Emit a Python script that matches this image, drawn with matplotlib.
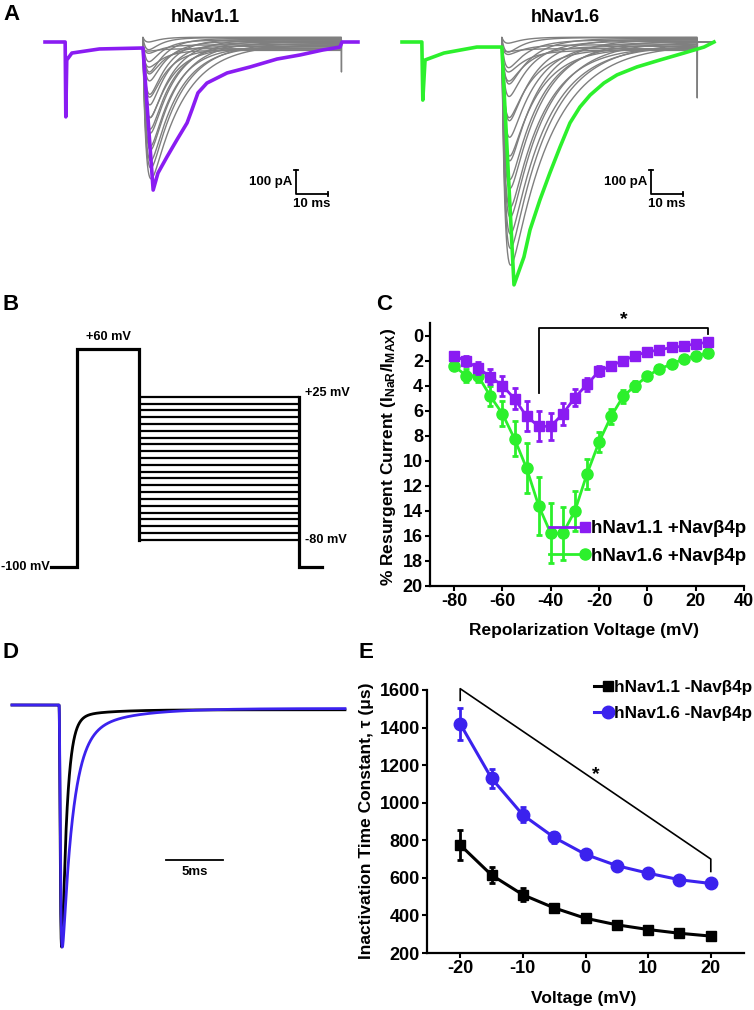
import numpy as np
import matplotlib
matplotlib.use("Agg")
import matplotlib.pyplot as plt
from matplotlib.lines import Line2D
from matplotlib.legend_handler import HandlerLine2D

W, H = 754, 1010

plt.rcParams["font.family"] = ["Liberation Sans", "DejaVu Sans"]
plt.rcParams["font.weight"] = "bold"
plt.rcParams["axes.labelweight"] = "bold"
plt.rcParams["axes.unicode_minus"] = False
plt.rcParams["mathtext.default"] = "regular"

PURPLE = "#8a1cf2"
GREEN = "#2cf02c"
BLUE = "#3b22ee"
GREY = "#7f7f7f"

# ---------------- panel A: resurgent current traces (ms, pA) ----------------
a11_t = [0, 6.3, 6.5, 6.8, 8.4, 17.0, 30.6, 33.8, 35.3, 38.1, 41.2, 44.4, 45.9,
         47.8, 50.6, 56.9, 64.1, 72.5, 79.7, 86.9, 92.2, 92.8, 97.8]
a11_i = [0, 0, -312, -75, -46, -29, -25, -617, -546, -479, -408, -337, -283,
         -212, -171, -129, -104, -71, -54, -33, -21, 0, 0]
a11_step, a11_end, a11_stop = 30.6, 92.6, 97.8
a11_grey_amp = [560, 520, 480, 450, 415, 385, 355, 325, 290, 260, 230, 200,
                165, 140, 115, 90, 70, 50, 35, 20, 10]
a11_grey_tau = [10, 9, 8.5, 8, 7.5, 7.5, 7, 7, 6.5, 6, 6, 5.5, 5.5, 5, 5, 4.5,
                4.5, 4, 4, 3.5, 3.5]
a11_tail = -125

a16_t = [0, 6.2, 6.5, 7.2, 13.1, 23.4, 31.2, 35.0, 38.1, 40.0, 43.1, 46.2,
         49.4, 52.5, 55.6, 58.8, 63.1, 67.2, 73.4, 80.6, 88.1, 94.4, 97.5]
a16_i = [0, 0, -242, -75, -46, -21, -21, -1012, -896, -783, -658, -546,
         -437, -337, -271, -221, -171, -137, -104, -75, -46, -21, 0]
a16_step, a16_end, a16_stop = 31.2, 92.2, 97.5
a16_grey_amp = [920, 855, 785, 730, 670, 615, 565, 505, 450, 395, 340, 285,
                230, 190, 145, 115, 90, 60, 40, 25, 12]
a16_grey_tau = [13, 12, 11.5, 11, 10.5, 10, 9.5, 9, 9, 8.5, 8, 7.5, 7, 7,
                6.5, 6, 5.5, 5, 5, 4.5, 4]
a16_tail = -233

grey_ss = [-10, -5, -15, 0, -20, 5, -8, 10, -25, -2, 12, -30, 3, 15, -18, 8,
           -35, 18, -12, 20, -28]

# ---------------- panel B: voltage protocol ----------------
hold_mv = -100
pre_mv = 60
repol_mv = [-80, -75, -70, -65, -60, -55, -50, -45, -40, -35, -30, -25, -20,
            -15, -10, -5, 0, 5, 10, 15, 20, 25]
b_times = [-10, 0, 24, 86, 95]

# ---------------- panel C: resurgent I-V ----------------
c_v = repol_mv
c11_mean = [1.6, 2.05, 2.6, 3.3, 4.0, 5.05, 6.45, 7.25, 7.25, 6.25, 4.95, 3.9,
            2.85, 2.4, 2.0, 1.6, 1.3, 1.15, 0.95, 0.85, 0.65, 0.55]
c11_sem = [0.3, 0.4, 0.5, 0.6, 0.8, 0.85, 1.2, 1.2, 1.1, 0.9, 0.7, 0.5, 0.4,
           0.3, 0.3, 0.3, 0.3, 0.3, 0.3, 0.3, 0.3, 0.3]
c16_mean = [2.45, 3.2, 3.25, 4.85, 6.25, 8.25, 10.6, 13.6, 15.8, 15.8, 14.0,
            11.05, 8.5, 6.45, 4.85, 4.0, 3.25, 2.65, 2.3, 1.85, 1.65, 1.4]
c16_sem = [0.3, 0.5, 0.5, 0.8, 1.0, 1.4, 2.0, 2.3, 2.4, 2.1, 1.6, 1.2, 0.8,
           0.6, 0.5, 0.4, 0.3, 0.3, 0.3, 0.3, 0.3, 0.3]

# ---------------- panel D: normalized traces ----------------
d_tau_m = 0.08
d_tau_fast = [0.44, 0.9]
d_tau_slow = [3.0, 4.0]
d_frac_slow = [0.02, 0.10]
d_sustained = [0.01, 0.01]
d_colors = ["black", BLUE]

# ---------------- panel E: inactivation tau ----------------
e_v = [-20, -15, -10, -5, 0, 5, 10, 15, 20]
e11_mean = [775, 615, 510, 440, 385, 350, 325, 305, 290]
e11_sem = [80, 45, 35, 20, 20, 15, 15, 15, 15]
e16_mean = [1420, 1130, 935, 815, 725, 665, 625, 590, 570]
e16_sem = [85, 50, 40, 30, 20, 15, 15, 15, 20]


fig = plt.figure(figsize=(W / 100, H / 100), dpi=100)


def box(x0, y0, x1, y1):
    return fig.add_axes([x0 / W, 1 - y1 / H, (x1 - x0) / W, (y1 - y0) / H])


def fpos(x, y):
    return x / W, 1 - y / H


class HandlerMarkerEnd(HandlerLine2D):
    def create_artists(self, *args, **kwargs):
        arts = super().create_artists(*args, **kwargs)
        for a in arts:
            a.set_markevery([2])
        return arts


def grey_family(ax, t_step, t_end, t_stop, pre, amps, taus, tail):
    t = np.linspace(t_step, t_stop, 900)
    dt = t - t_step
    for k, (amp, tau) in enumerate(zip(amps, taus)):
        shape = np.exp(-dt / tau) - np.exp(-dt / 1.0)
        shape = shape / shape.max()
        i = grey_ss[k] - amp * shape
        i[t > t_end] = 0.0
        if k == 0:
            i[np.argmax(t > t_end)] = tail
        ax.plot(np.r_[t_step, t], np.r_[pre, i], color=GREY, lw=1.0, zorder=1)


def scale_bar(ax, t0, i0):
    ax.plot([t0, t0, t0 + 10], [i0, i0 - 100, i0 - 100], color="black", lw=1.3)
    ax.plot([t0 - 0.6, t0 + 0.6], [i0, i0], color="black", lw=1.3)
    ax.plot([t0 + 10, t0 + 10], [i0 - 92, i0 - 108], color="black", lw=1.3)
    ax.text(t0 - 1.2, i0 - 50, "100 pA", ha="right", va="center", fontsize=9.5)
    ax.text(t0 + 5, i0 - 118, "10 ms", ha="center", va="top", fontsize=9.5)


# panel A left
axA1 = box(40, 28, 370, 300)
axA1.set_xlim((40 - 45) / 3.2, (370 - 45) / 3.2)
axA1.set_ylim(-(300 - 42) / 0.24, (42 - 28) / 0.24)
axA1.axis("off")
grey_family(axA1, a11_step, a11_end, a11_stop, -25, a11_grey_amp, a11_grey_tau, a11_tail)
axA1.plot(a11_t, a11_i, color=PURPLE, lw=2.6, zorder=3, solid_joinstyle="round")
scale_bar(axA1, 78.4, -533)

# panel A right
axA2 = box(395, 28, 725, 300)
axA2.set_xlim((395 - 402) / 3.2, (725 - 402) / 3.2)
axA2.set_ylim(-(300 - 42) / 0.24, (42 - 28) / 0.24)
axA2.axis("off")
grey_family(axA2, a16_step, a16_end, a16_stop, -21, a16_grey_amp, a16_grey_tau, a16_tail)
axA2.plot(a16_t, a16_i, color=GREEN, lw=2.6, zorder=3, solid_joinstyle="round")
scale_bar(axA2, 77.8, -533)

fig.text(*fpos(205, 17), "hNav1.1", ha="center", va="center", fontsize=13)
fig.text(*fpos(565, 17), "hNav1.6", ha="center", va="center", fontsize=13)

# panel B
axB = box(0, 320, 377, 590)
axB.set_xlim((0 - 77) / 2.58, (377 - 77) / 2.58)
axB.set_ylim(-100 + (567 - 590) / 1.3625, -100 + (567 - 320) / 1.3625)
axB.axis("off")
t_start, t_on, t_off, t_end, t_stop = b_times
for v in repol_mv:
    axB.plot([t_off, t_end], [v, v], color="black", lw=1.6, solid_capstyle="butt")
axB.plot([t_start, t_on, t_on, t_off, t_off], [hold_mv, hold_mv, pre_mv, pre_mv, min(repol_mv)],
         color="black", lw=2.3, solid_joinstyle="miter")
axB.plot([t_end, t_end, t_stop], [max(repol_mv), hold_mv, hold_mv],
         color="black", lw=2.3, solid_joinstyle="miter")
axB.text((t_on + t_off) / 2, pre_mv + 9, "+60 mV", ha="center", va="center", fontsize=9.2)
axB.text(t_end + 2.5, max(repol_mv) + 3, "+25 mV", ha="left", va="center", fontsize=9.2)
axB.text(t_end + 2.5, min(repol_mv), "-80 mV", ha="left", va="center", fontsize=9.2)
axB.text(t_start - 0.4, hold_mv, "-100 mV", ha="right", va="center", fontsize=9.2)


def style_axes(ax):
    for s in ["top", "right"]:
        ax.spines[s].set_visible(False)
    for s in ["left", "bottom"]:
        ax.spines[s].set_linewidth(1.6)
    ax.tick_params(direction="out", length=3.6, width=1.5, labelsize=13, pad=1.5)


# panel C
axC = box(430, 323, 744, 586)
axC.errorbar(c_v, c16_mean, yerr=c16_sem, fmt="none", ecolor=GREEN, elinewidth=2,
             capsize=2.5, capthick=2)
axC.plot(c_v, c16_mean, "-o", color=GREEN, lw=2, ms=8, label="hNav1.6 +Navβ4p")
axC.errorbar(c_v, c11_mean, yerr=c11_sem, fmt="none", ecolor=PURPLE, elinewidth=2,
             capsize=2.5, capthick=2)
axC.plot(c_v, c11_mean, "-s", color=PURPLE, lw=2, ms=7, label="hNav1.1 +Navβ4p")
axC.set_xlim(-90, 40)
axC.set_ylim(20, -1)
axC.set_xticks([-80, -60, -40, -20, 0, 20, 40])
axC.set_yticks(range(0, 21, 2))
style_axes(axC)
axC.plot([-45, -45, 25, 25], [4.6, -0.6, -0.6, -0.1], color="black", lw=1.3, clip_on=False)
axC.text(-9.7, -1.3, "*", ha="center", va="center", fontsize=14, clip_on=False)
hC, lC = axC.get_legend_handles_labels()
axC.legend(hC[::-1], lC[::-1], loc="upper left", bbox_to_anchor=fpos(549, 520),
           bbox_transform=fig.transFigure, frameon=False, fontsize=13.5,
           handlelength=1.9, handletextpad=0.35, labelspacing=0.55, borderpad=0,
           borderaxespad=0, handler_map={Line2D: HandlerMarkerEnd()})
fig.text(*fpos(388, 457), "% Resurgent Current (I$_{NaR}$/I$_{MAX}$)", rotation=90,
         ha="center", va="center", fontsize=12.5)
fig.text(*fpos(584, 630), "Repolarization Voltage (mV)", ha="center", va="center",
         fontsize=12.5)

# panel D
axD = box(0, 640, 377, 1000)
axD.set_xlim(-59 / 11.4, (377 - 59) / 11.4)
axD.set_ylim(-(1000 - 705) / 242, (705 - 640) / 242)
axD.axis("off")
td = np.linspace((12 - 59) / 11.4, (345 - 59) / 11.4, 4000)
tt = np.clip(td, 0, None)
for tf, ts, fs, sus, col in zip(d_tau_fast, d_tau_slow, d_frac_slow, d_sustained, d_colors):
    act = (1 - np.exp(-tt / d_tau_m)) ** 3
    inact = (1 - fs - sus) * np.exp(-tt / tf) + fs * np.exp(-tt / ts) + sus
    cur = -act * inact
    cur = cur / -cur.min()
    axD.plot(td, cur, color=col, lw=2)
axD.plot([9.4, 14.4], [-0.64, -0.64], color="black", lw=1.3)
axD.text(11.9, -0.665, "5ms", ha="center", va="top", fontsize=9.5)

# panel E
axE = box(427, 690, 744, 953)
axE.errorbar(e_v, e11_mean, yerr=e11_sem, fmt="none", ecolor="black", elinewidth=2,
             capsize=2.5, capthick=2)
axE.plot(e_v, e11_mean, "-s", color="black", lw=2.2, ms=7, label="hNav1.1 -Navβ4p")
axE.errorbar(e_v, e16_mean, yerr=e16_sem, fmt="none", ecolor=BLUE, elinewidth=2,
             capsize=2.5, capthick=2)
axE.plot(e_v, e16_mean, "-o", color=BLUE, lw=2.2, ms=9, label="hNav1.6 -Navβ4p")
axE.set_xlim(-25.3, 25.3)
axE.set_ylim(200, 1600)
axE.set_xticks([-20, -10, 0, 10, 20])
axE.set_yticks(range(200, 1601, 200))
style_axes(axE)
axE.plot([-20, -20, 20, 20], [1545, 1607, 700, 634], color="black", lw=1.2, clip_on=False)
axE.text(1.7, 1150, "*", ha="center", va="center", fontsize=14)
axE.legend(loc="upper left", bbox_to_anchor=fpos(594, 680),
           bbox_transform=fig.transFigure, frameon=False, fontsize=12.3,
           handlelength=0.8, handletextpad=0.4, labelspacing=0.65, borderpad=0,
           borderaxespad=0, handler_map={Line2D: HandlerMarkerEnd()})
fig.text(*fpos(367, 821), "Inactivation Time Constant, τ (μs)", rotation=90,
         ha="center", va="center", fontsize=12.5)
fig.text(*fpos(584, 998), "Voltage (mV)", ha="center", va="center", fontsize=12.5)

# panel letters
for letter, x, y in [("A", 3, 15), ("B", 3, 305), ("C", 376, 304), ("D", 3, 653), ("E", 359, 653)]:
    fig.text(*fpos(x, y), letter, ha="left", va="center", fontsize=16)

fig.savefig("out.png", dpi=100)
